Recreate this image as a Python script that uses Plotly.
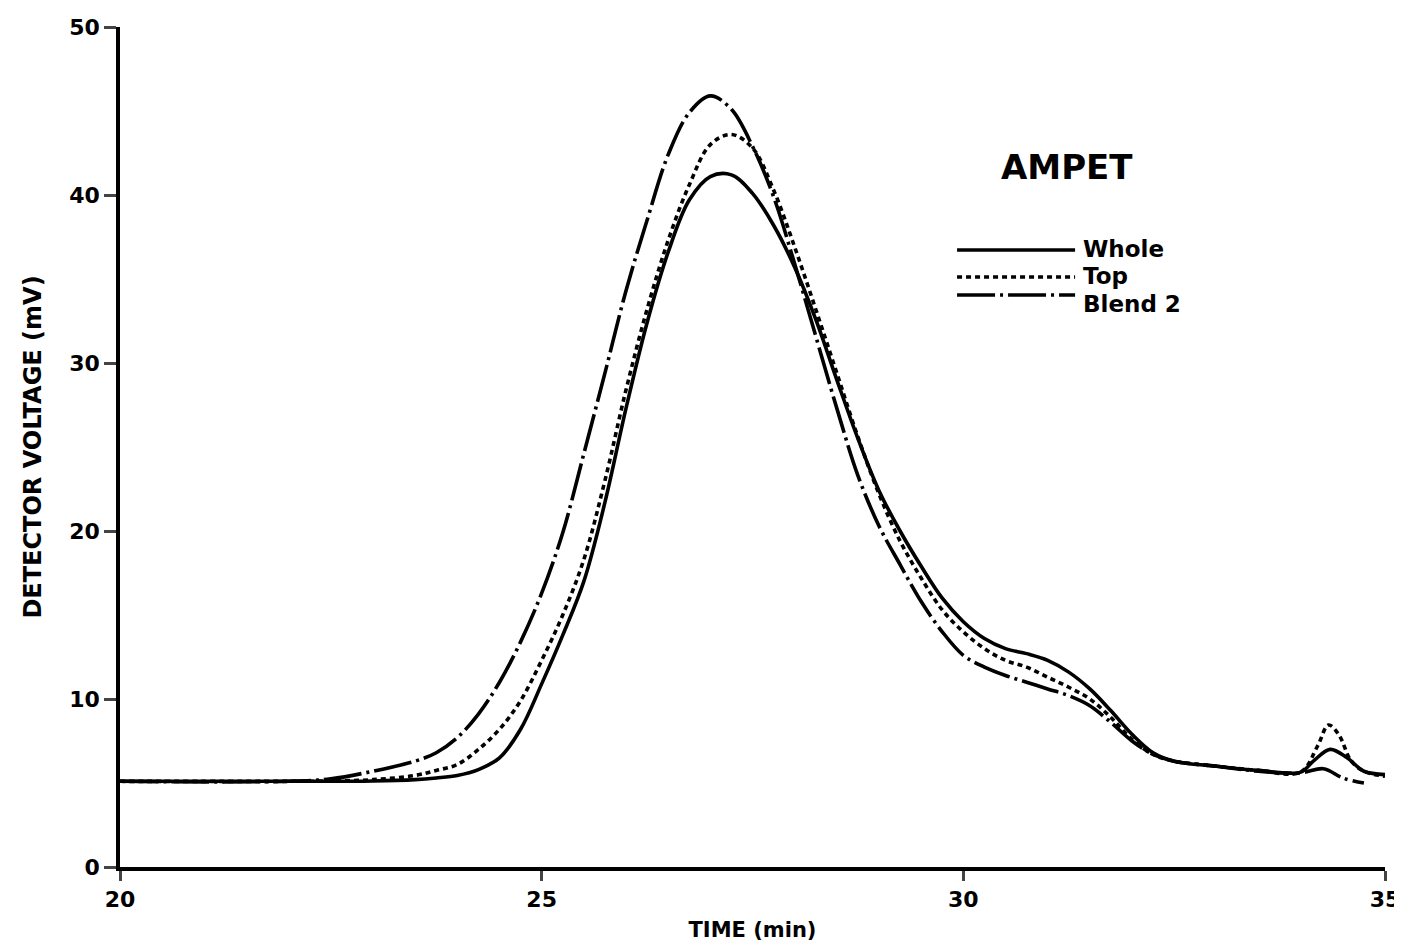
import plotly.graph_objects as go

# chromatogram traces: time (min) / detector voltage (mV)
whole_t = [20, 22, 23, 23.5, 23.75, 24.0, 24.25, 24.5, 24.75, 25.0, 25.25, 25.5, 25.75,
           26.0, 26.25, 26.5, 26.75, 27.0, 27.25, 27.5, 27.75, 28.0, 28.25, 28.5, 28.75,
           29.0, 29.25, 29.5, 29.75, 30.0, 30.25, 30.5, 30.75, 31.0, 31.25, 31.5, 31.75,
           32.0, 32.25, 32.5, 33.0, 33.5, 34.0, 34.15, 34.35, 34.55, 34.75, 35.0]
whole_v = [5.1, 5.1, 5.12, 5.2, 5.3, 5.45, 5.8, 6.5, 8.2, 10.9, 13.8, 17.0, 21.7,
           27.3, 32.4, 36.6, 39.7, 41.1, 41.2, 40.1, 38.2, 35.7, 32.6, 29.0, 25.5,
           22.4, 20.0, 17.9, 16.0, 14.6, 13.6, 13.0, 12.7, 12.3, 11.6, 10.6, 9.3,
           7.9, 6.8, 6.3, 6.0, 5.75, 5.65, 6.3, 7.0, 6.5, 5.7, 5.5]

top_t = [20, 22, 22.5, 23.0, 23.5, 23.75, 24.0, 24.25, 24.5, 24.75, 25.0, 25.25, 25.5,
         25.75, 26.0, 26.25, 26.5, 26.75, 27.0, 27.25, 27.5, 27.75, 28.0, 28.25, 28.5,
         28.75, 29.0, 29.25, 29.5, 29.75, 30.0, 30.25, 30.5, 30.75, 31.0, 31.25, 31.5,
         31.75, 32.0, 32.25, 32.5, 33.0, 33.5, 34.0, 34.2, 34.33, 34.45, 34.6, 34.75, 35.0]
top_v = [5.1, 5.1, 5.12, 5.2, 5.45, 5.75, 6.1, 7.0, 8.2, 9.9, 12.3, 15.0, 18.3,
         23.0, 28.4, 33.2, 37.3, 40.6, 43.0, 43.6, 42.8, 40.3, 36.9, 33.2, 29.4,
         25.6, 22.2, 19.4, 17.2, 15.3, 14.0, 13.0, 12.3, 11.9, 11.3, 10.7, 10.0,
         8.9, 7.6, 6.7, 6.3, 6.0, 5.75, 5.65, 7.2, 8.45, 7.9, 6.3, 5.7, 5.4]

blend_t = [20, 22, 22.5, 23.0, 23.5, 23.75, 24.0, 24.25, 24.5, 24.75, 25.0, 25.25, 25.5,
           25.75, 26.0, 26.25, 26.5, 26.75, 27.0, 27.25, 27.5, 27.75, 28.0, 28.25, 28.5,
           28.75, 29.0, 29.25, 29.5, 29.75, 30.0, 30.25, 30.5, 30.75, 31.0, 31.25, 31.5,
           31.75, 32.0, 32.25, 32.5, 33.0, 33.5, 34.0, 34.27, 34.5, 34.75]
blend_v = [5.1, 5.1, 5.25, 5.7, 6.3, 6.8, 7.7, 9.1, 11.0, 13.4, 16.3, 19.9, 24.6,
           29.4, 34.3, 38.5, 42.4, 44.9, 45.9, 45.1, 42.9, 39.9, 35.9, 31.6, 27.3,
           23.3, 20.3, 18.0, 15.8, 14.0, 12.6, 11.9, 11.4, 11.0, 10.6, 10.2, 9.6,
           8.6, 7.5, 6.7, 6.3, 6.0, 5.7, 5.6, 5.85, 5.3, 5.0]

x_ticks = [20, 25, 30, 35]
y_ticks = [0, 10, 20, 30, 40, 50]

FONT = "DejaVu Sans"
DOT = "5px,4px"
DASHDOT = "38px,5px,3px,5px"


def bold(size):
    return dict(family=FONT, size=size, weight="bold", color="black")


fig = go.Figure()
fig.add_trace(go.Scatter(x=whole_t, y=whole_v, mode="lines", name="Whole",
                         line=dict(color="black", width=3.6, shape="spline")))
fig.add_trace(go.Scatter(x=top_t, y=top_v, mode="lines", name="Top",
                         line=dict(color="black", width=3.6, dash=DOT, shape="spline")))
fig.add_trace(go.Scatter(x=blend_t, y=blend_v, mode="lines", name="Blend 2",
                         line=dict(color="black", width=3.6, dash=DASHDOT, shape="spline")))

# legend drawn like the original: long line keys, labels to the right
legend_rows = [("Whole", "solid", 0.7345, 0.736), ("Top", DOT, 0.7024, 0.703),
               ("Blend 2", DASHDOT, 0.681, 0.670)]
for label, dash, line_y, text_y in legend_rows:
    fig.add_shape(type="line", xref="paper", yref="paper", x0=0.6617, x1=0.755,
                  y0=line_y, y1=line_y, line=dict(color="black", width=3.6, dash=dash))
    fig.add_annotation(xref="paper", yref="paper", x=0.7595, y=text_y, text=label,
                       showarrow=False, xanchor="left", yanchor="middle", font=bold(23))

fig.add_annotation(xref="paper", yref="paper", x=0.749, y=0.833, text="AMPET", showarrow=False,
                   xanchor="center", yanchor="middle", font=bold(34))

fig.update_xaxes(range=[20, 35], tickvals=x_ticks, ticks="outside", ticklen=10, tickwidth=3,
                 showline=True, linewidth=3.5, linecolor="black", showgrid=False, zeroline=False,
                 automargin=False, tickfont=bold(22),
                 title=dict(text="TIME (min)", standoff=12, font=bold(21)))
fig.update_yaxes(range=[0, 50], tickvals=y_ticks, ticks="outside", ticklen=12, tickwidth=3,
                 showline=True, linewidth=3.5, linecolor="black", showgrid=False, zeroline=False,
                 automargin=False, tickfont=bold(22),
                 title=dict(text="DETECTOR VOLTAGE (mV)", standoff=22, font=bold(24)))

# the html page puts the figure 8px in from the top-left corner, so size it to fit the window
fig.update_layout(width=1394, height=940, showlegend=False,
                  plot_bgcolor="white", paper_bgcolor="white",
                  margin=dict(l=112, r=17, t=19, b=81))

fig.write_html("out.html")
